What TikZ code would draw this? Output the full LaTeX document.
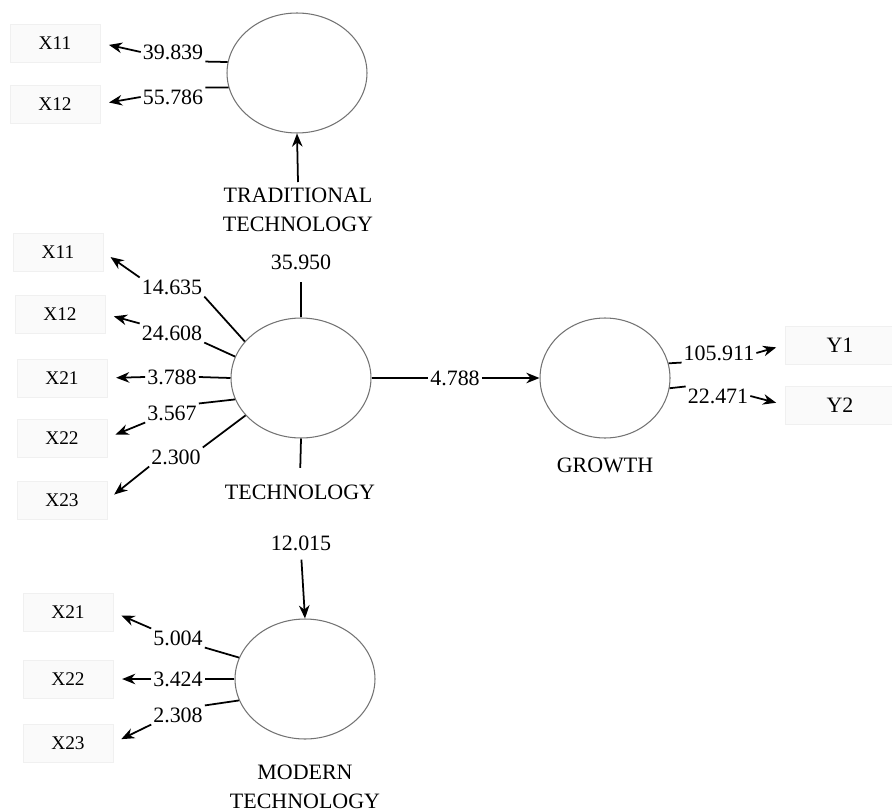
\documentclass[tikz,border=0pt]{standalone}
\usepackage{fontspec}
\setmainfont{Liberation Serif}
\usetikzlibrary{arrows.meta,shapes.geometric}

\begin{document}
\begin{tikzpicture}[x=0.02cm, y=-0.02cm,
  latent/.style={ellipse, draw=black!55, line width=0.6pt, minimum width=2.8cm, minimum height=2.4cm, inner sep=0pt},
  item/.style={rectangle, draw=black!6, fill=black!2, minimum width=1.8cm, minimum height=0.76cm, font=\fontsize{11}{13}\selectfont},
  val/.style={inner sep=1pt, font=\fontsize{12.5}{15}\selectfont},
  latname/.style={align=center, font=\fontsize{12.5}{16.4}\selectfont},
  link/.style={line width=1pt},
  load/.style={line width=1pt, -{Stealth[length=7.5pt,width=6pt]}},
  toitem/.style={load, shorten >=5pt}]
  \useasboundingbox (0,0) rectangle (892,811);

  % latent variables
  \node[latent] (trad) at (297,73) {};
  \node[latent] (tech) at (301,378) {};
  \node[latent, minimum width=2.6cm] (grow) at (605,378) {};
  \node[latent] (mod) at (305,679) {};
  \node[latname] (tradn) at (298,210) {TRADITIONAL\\TECHNOLOGY};
  \node[latname] (techn) at (300,492) {TECHNOLOGY};
  \node[latname] (grown) at (605,465) {GROWTH};
  \node[latname] (modn) at (305,787) {MODERN\\TECHNOLOGY};

  % paths between latent variables
  \node[val] (v1) at (301,262) {35.950};
  \node[val] (v2) at (301,543) {12.015};
  \node[val] (v3) at (455,378) {4.788};
  \draw[link, shorten >=6pt] (tech.north) -- (v1.south);
  \draw[load] (tradn.north) -- (trad.south);
  \draw[link, shorten >=6pt] (tech.south) -- (techn.north);
  \draw[load, shorten <=4pt] (v2.south) -- (mod.north);
  \draw[link] (tech.east) -- (v3.west);
  \draw[load] (v3.east) -- (grow.west);

  % traditional technology
  \node[item] (ta1) at (55,43) {X11};
  \node[item] (ta2) at (55,104) {X12};
  \node[val] (a1) at (173,52) {39.839};
  \node[val] (a2) at (173,97) {55.786};
  \draw[link] (trad.171) -- (a1.south east);
  \draw[link] (trad.192) -- (a2.north east);
  \draw[toitem] (a1.west) -- (ta1.east);
  \draw[toitem] (a2.west) -- (ta2.east);

  % technology
  \node[item] (tb1) at (58,252) {X11};
  \node[item] (tb2) at (60,314) {X12};
  \node[item] (tb3) at (62,378) {X21};
  \node[item] (tb4) at (62,438) {X22};
  \node[item] (tb5) at (62,500) {X23};
  \node[val] (b1) at (172,287) {14.635};
  \node[val] (b2) at (172,333) {24.608};
  \node[val] (b3) at (172,377) {3.788};
  \node[val] (b4) at (172,413) {3.567};
  \node[val] (b5) at (176,457) {2.300};
  \draw[link] (tech.147) -- (b1.south east);
  \draw[link] (tech.162) -- (b2.south east);
  \draw[link] (tech.west) -- (b3.east);
  \draw[link] (tech.198) -- (b4.north east);
  \draw[link] (tech.214) -- (b5.north east);
  \draw[toitem] (b1.north west) -- (tb1.east);
  \draw[toitem] (b2.north west) -- (tb2.east);
  \draw[toitem] (b3.west) -- (tb3.east);
  \draw[toitem] (b4.south west) -- (tb4.east);
  \draw[toitem] (b5.south west) -- (tb5.east);

  % modern technology
  \node[item] (tm1) at (68,612) {X21};
  \node[item] (tm2) at (68,679) {X22};
  \node[item] (tm3) at (68,743) {X23};
  \node[val] (m1) at (178,638) {5.004};
  \node[val] (m2) at (178,679) {3.424};
  \node[val] (m3) at (178,715) {2.308};
  \draw[link] (mod.162) -- (m1.south east);
  \draw[link] (mod.west) -- (m2.east);
  \draw[link] (mod.198) -- (m3.north east);
  \draw[toitem] (m1.north west) -- (tm1.east);
  \draw[toitem] (m2.west) -- (tm2.east);
  \draw[toitem] (m3.south west) -- (tm3.east);

  % growth
  \node[item, minimum width=2.2cm, font=\fontsize{12.5}{15}\selectfont] (ty1) at (840,345) {Y1};
  \node[item, minimum width=2.2cm, font=\fontsize{12.5}{15}\selectfont] (ty2) at (840,405) {Y2};
  \node[val] (g1) at (719,353) {105.911};
  \node[val] (g2) at (718,396) {22.471};
  \draw[link] (grow.13) -- (g1.south west);
  \draw[link] (grow.351) -- (g2.north west);
  \draw[toitem] (g1.east) -- (ty1.west);
  \draw[toitem] (g2.east) -- (ty2.west);
\end{tikzpicture}
\end{document}
